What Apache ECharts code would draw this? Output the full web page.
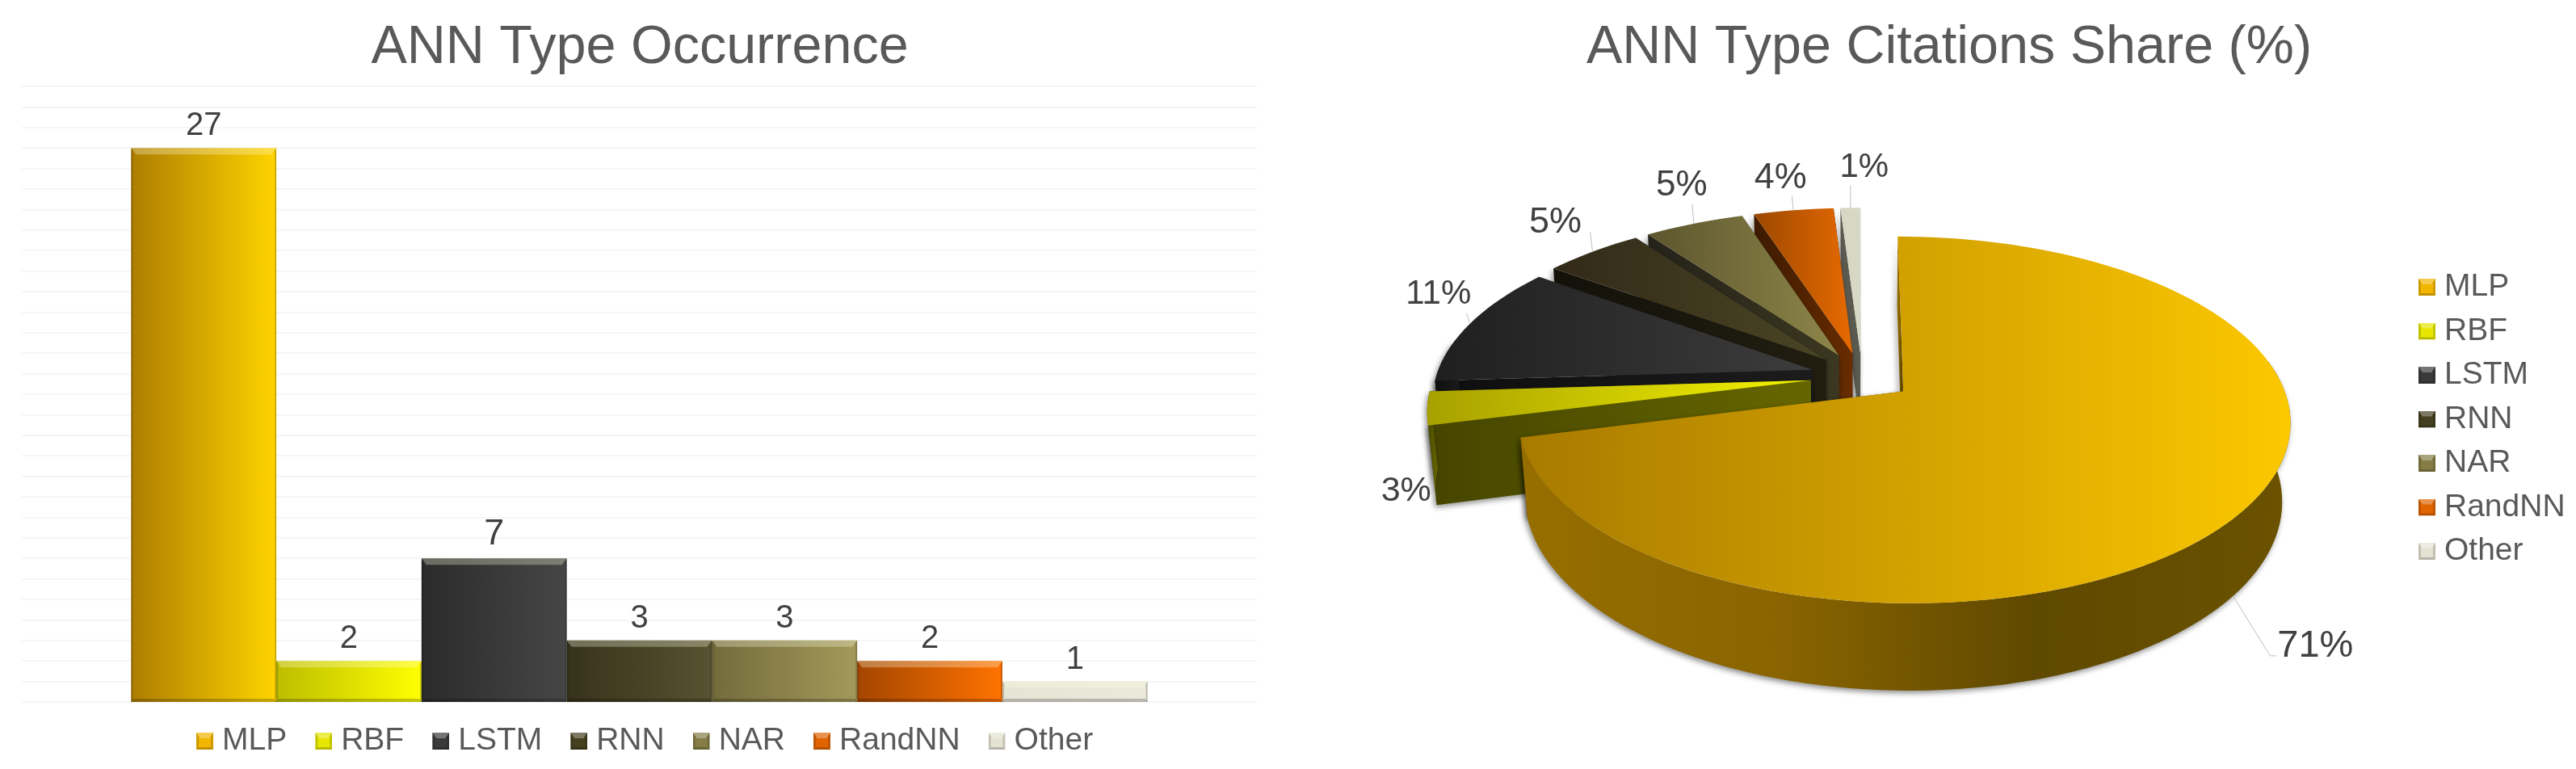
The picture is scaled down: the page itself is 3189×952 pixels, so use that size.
<!DOCTYPE html>
<html>
<head>
<meta charset="utf-8">
<title>ANN Type</title>
<script src="https://cdn.jsdelivr.net/npm/echarts@6/dist/echarts.min.js"></script>
<style>
  html, body { margin: 0; padding: 0; background: #fff; }
  #chart { width: 3189px; height: 952px; }
</style>
</head>
<body>
<div id="chart"></div>
<script>
const categories = ['MLP', 'RBF', 'LSTM', 'RNN', 'NAR', 'RandNN', 'Other']
const occurrence = [27, 2, 7, 3, 3, 2, 1]
const citationShare = [71, 3, 11, 5, 5, 4, 1]

// colours run left to right across each shape
const barShades = [
  ['#ad7d00', '#ffd400'], ['#bdbd00', '#ffff00'], ['#2b2b2b', '#464646'], ['#37321b', '#575230'],
  ['#736b3c', '#a3995a'], ['#a44600', '#ff7200'], ['#e6e4d4', '#ebe9da']
]
const topShades = [
  ['#a87a00', '#fcc800'], ['#a8a000', '#f4f400'], ['#1f1f1f', '#3c3c3c'], ['#322a18', '#4a4525'],
  ['#5c552e', '#8e8649'], ['#9c4800', '#e86a00'], ['#d6d6c2', '#d8d8c6']
]
const sideShades = [
  ['#966e00', '#8a6400', '#5f4900', '#6a5200'], ['#454500', '#666600'], ['#0e0e0e', '#1c1c1c'], ['#13110a', '#211e10'],
  ['#24221a', '#3c3720'], ['#3c1a00', '#682c00'], ['#5a5a50', '#5a5a50']
]
const swatchBase = ['#f2b500', '#e6e600', '#3a3a3a', '#45401f', '#857d45', '#e06400', '#e4e2d2']
const barLabelSizes = [40, 40, 45, 40, 40, 40, 40]
const pieLabelSizes = [47, 43, 42, 45, 44, 45, 42]

// pie view
const PIE = { cx: 2305, cy: 466, r: 466, depth: 110, explode: 64, camera: 2681, sin: 0.463, cos: 0.886 }
// leader start and text centre, relative to where the slice bisector meets the rim
const leaderEnds = [[46, 74], null, [-4, -13], [-3, -24], [-2, -24], [-2, -18], [0, -28]]
const labelOffsets = [[102, 62], [-26, 103], [-39, -36], [-46, -36], [-15, -47], [-16, -40], [17, -50]]

const FONT = '"Liberation Sans", Arial, sans-serif'

const total = citationShare.reduce((a, b) => a + b, 0)
let running = 0
const sliceAngles = citationShare.map(v => {
  const from = running / total * 360
  running += v
  return [from, running / total * 360]
})

function rad(deg) { return deg * Math.PI / 180 }

function project(x, y, z) {
  const d = PIE.camera + y * PIE.cos - z * PIE.sin
  const s = PIE.camera / d
  return [PIE.cx + x * s, PIE.cy - (y * PIE.sin + z * PIE.cos) * s]
}

function hShade(colors) {
  return {
    type: 'linear', x: 0, y: 0, x2: 1, y2: 0,
    colorStops: colors.map((color, i) => ({ offset: i / (colors.length - 1), color }))
  }
}

function swatch(color) {
  const svg = '<svg xmlns="http://www.w3.org/2000/svg" width="21" height="21">' +
    '<rect width="21" height="21" fill="' + color + '"/>' +
    '<polygon points="0,0 21,0 16,7 5,7" fill="#fff" fill-opacity="0.3"/>' +
    '<polygon points="0,21 21,21 18,18 3,18" fill="#000" fill-opacity="0.2"/>' +
    '<polygon points="0,0 3,4 3,18 0,21" fill="#000" fill-opacity="0.15"/>' +
    '<polygon points="21,0 18,4 18,18 21,21" fill="#000" fill-opacity="0.15"/>' +
    '</svg>'
  return 'image://data:image/svg+xml;charset=utf-8,' + encodeURIComponent(svg)
}

const legendData = categories.map((name, i) => ({ name, icon: swatch(swatchBase[i]) }))

function renderSlice(index) {
  const [a1, a2] = sliceAngles[index]
  const mid = rad((a1 + a2) / 2)
  const ox = PIE.explode * Math.sin(mid)
  const oy = PIE.explode * Math.cos(mid)
  const rimAt = (deg, z) => project(
    ox + PIE.r * Math.sin(rad(deg)),
    oy + PIE.r * Math.cos(rad(deg)),
    z
  )
  const apex = z => project(ox, oy, z)
  const bottom = -PIE.depth

  const arc = (from, to, z) => {
    const pts = []
    const n = Math.max(2, Math.ceil(Math.abs(to - from) / 2))
    for (let i = 0; i <= n; i++) pts.push(rimAt(from + (to - from) * i / n, z))
    return pts
  }
  const poly = (points, style) => ({ type: 'polygon', shape: { points }, style })
  const wallStyle = {
    fill: hShade(sideShades[index]),
    shadowBlur: 7, shadowColor: 'rgba(0,0,0,0.45)', shadowOffsetX: -2, shadowOffsetY: 3
  }

  const children = []
  // cut faces
  const faces = [a1, a2].sort((p, q) => Math.cos(rad(q)) - Math.cos(rad(p)))
  faces.forEach(deg => {
    children.push(poly([apex(0), rimAt(deg, 0), rimAt(deg, bottom), apex(bottom)], wallStyle))
  })
  // outer wall, only the part that faces the viewer
  const f1 = Math.max(a1, 80)
  const f2 = Math.min(a2, 280)
  if (f2 > f1) {
    children.push(poly(arc(f1, f2, 0).concat(arc(f2, f1, bottom)), wallStyle))
  }
  // top surface
  children.push(poly([apex(0)].concat(arc(a1, a2, 0)), { fill: hShade(topShades[index]) }))

  // data label and leader
  const midDeg = (a1 + a2) / 2
  const anchor = rimAt(midDeg, index === 0 ? bottom : 0)
  const leader = leaderEnds[index]
  if (leader) {
    const pts = [anchor, [anchor[0] + leader[0], anchor[1] + leader[1]]]
    if (index === 0) pts.push([anchor[0] + leader[0] + 8, anchor[1] + leader[1]])
    children.push({ type: 'polyline', shape: { points: pts }, style: { stroke: '#bfbfbf', lineWidth: 1, fill: null } })
  }
  children.push({
    type: 'text',
    style: {
      text: citationShare[index] + '%',
      x: anchor[0] + labelOffsets[index][0],
      y: anchor[1] + labelOffsets[index][1],
      align: 'center', verticalAlign: 'middle',
      font: pieLabelSizes[index] + 'px ' + FONT, fill: '#404040'
    }
  })
  return { type: 'group', children }
}

// bevel drawn over the real bars, same band layout as barCategoryGap / barGap below
const CATEGORY_GAP = 0.177
function renderBevel(params, api) {
  const i = api.value(0)
  const top = api.coord([0, api.value(1)])
  const base = api.coord([0, 0])
  const band = api.size([1, 0])[0]
  const w = band * (1 - CATEGORY_GAP) / categories.length
  const x0 = top[0] - w * categories.length / 2 + i * w
  const x1 = x0 + w
  const poly = (points, fill) => ({ type: 'polygon', shape: { points }, style: { fill } })
  return {
    type: 'group',
    children: [
      poly([[x0, base[1]], [x1, base[1]], [x1 - 3, base[1] - 4], [x0 + 3, base[1] - 4]], 'rgba(0,0,0,0.22)'),
      poly([[x0, top[1]], [x0 + 2, top[1] + 3], [x0 + 2, base[1]], [x0, base[1]]], 'rgba(0,0,0,0.2)'),
      poly([[x1, top[1]], [x1 - 2, top[1] + 3], [x1 - 2, base[1]], [x1, base[1]]], 'rgba(0,0,0,0.2)'),
      poly([[x0, top[1]], [x1, top[1]], [x1 - 6, top[1] + 8], [x0 + 6, top[1] + 8]], 'rgba(255,255,230,0.3)')
    ]
  }
}

const barSeries = categories.map((name, i) => ({
  name,
  type: 'bar',
  xAxisIndex: 0,
  yAxisIndex: 0,
  barGap: 0,
  barCategoryGap: CATEGORY_GAP * 100 + '%',
  data: [occurrence[i]],
  itemStyle: { color: hShade(barShades[i]) },
  label: {
    show: true, position: 'top', distance: 7,
    fontSize: barLabelSizes[i], color: '#404040', fontFamily: FONT
  },
  z: 2
}))

const bevelSeries = {
  type: 'custom',
  name: 'bevel',
  silent: true,
  renderItem: renderBevel,
  data: occurrence.map((v, i) => [i, v]),
  encode: { x: -1, y: 1 },
  z: 3
}

const pieSeries = categories.map((name, i) => ({
  name,
  type: 'custom',
  coordinateSystem: 'none',
  silent: true,
  renderItem: () => renderSlice(i),
  data: [[citationShare[i]]],
  z: 20 - i
}))

const chart = echarts.init(document.getElementById('chart'), null, { renderer: 'canvas' })
chart.setOption({
  animation: false,
  backgroundColor: '#fff',
  textStyle: { fontFamily: FONT },
  title: [
    { text: 'ANN Type Occurrence', left: 787, top: 21, textAlign: 'center', textStyle: { fontSize: 66.5, fontWeight: 'normal', color: '#595959', fontFamily: FONT } },
    { text: 'ANN Type Citations Share (%)', left: 2408, top: 21, textAlign: 'center', textStyle: { fontSize: 66.5, fontWeight: 'normal', color: '#595959', fontFamily: FONT } }
  ],
  grid: { left: 27, top: 107, width: 1529, height: 762 },
  xAxis: {
    type: 'category',
    data: ['ANN Type'],
    axisLine: { show: false }, axisTick: { show: false }, axisLabel: { show: false }
  },
  yAxis: {
    type: 'value', min: 0, max: 30, interval: 1,
    axisLine: { show: false }, axisTick: { show: false }, axisLabel: { show: false },
    splitLine: { lineStyle: { color: '#f6f6f6', width: 2 } }
  },
  legend: [
    {
      data: legendData, orient: 'horizontal', left: 238, top: 893,
      itemWidth: 21, itemHeight: 21, itemGap: 35, selectedMode: false,
      textStyle: { fontSize: 39, color: '#595959', fontFamily: FONT, padding: [0, 0, 0, 6] }
    },
    {
      data: legendData, orient: 'vertical', left: 2989, top: 331,
      itemWidth: 21, itemHeight: 21, itemGap: 15.5, selectedMode: false,
      textStyle: { fontSize: 39, color: '#595959', fontFamily: FONT, padding: [0, 0, 0, 6] }
    }
  ],
  series: [...barSeries, bevelSeries, ...pieSeries]
})
</script>
</body>
</html>
